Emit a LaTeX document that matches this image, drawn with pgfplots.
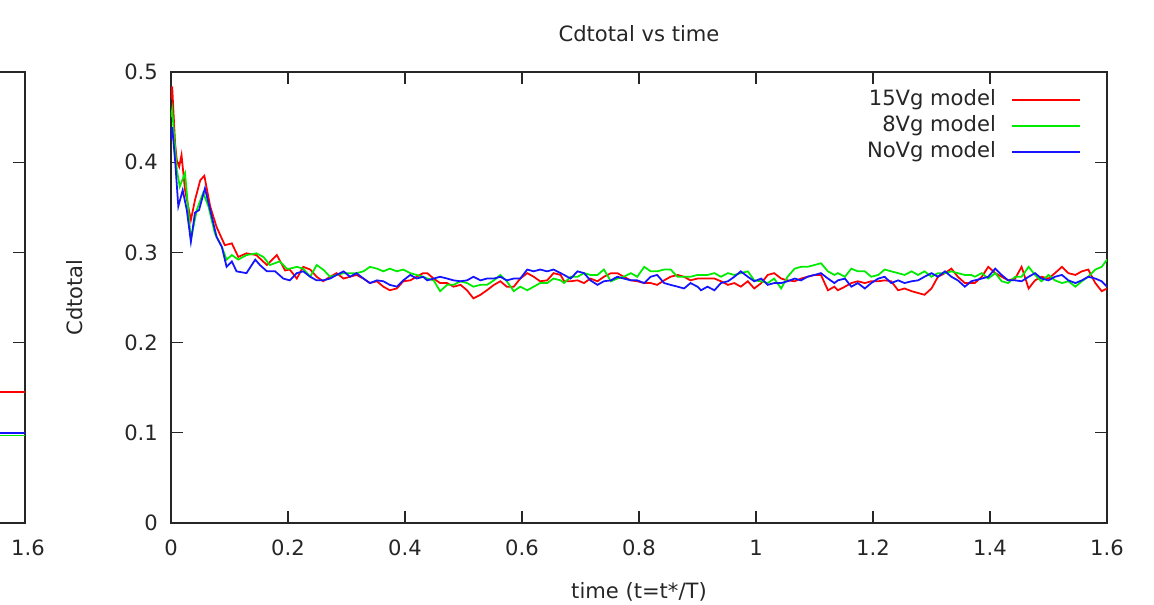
\documentclass[border=0pt]{standalone}
\usepackage{fontspec}
\setmainfont{DejaVu Sans}
\usepackage{pgfplots}
\pgfplotsset{compat=1.18}
\definecolor{gpred}{RGB}{255,0,0}
\definecolor{gpgreen}{RGB}{0,235,0}
\definecolor{gpblue}{RGB}{20,20,255}
\newcommand{\gpfont}{\fontsize{12}{14}\selectfont}

\pgfplotsset{gpstyle/.style={
  scale only axis, width=18.72cm, height=9.02cm,
  xmin=0, xmax=1.6, ymin=0, ymax=0.5,
  tick align=inside, xtick pos=both, ytick pos=both,
  major tick length=0.24cm,
  axis line style={black!85, line width=0.7pt},
  every tick/.style={black!85, line width=0.7pt},
  ticklabel style={font=\gpfont, text=black!85},
  /pgf/number format/assume math mode=true,
  xticklabel style={yshift=-0.22cm},
  yticklabel style={xshift=-0.14cm},
  clip=true,
}}

\begin{document}
\begin{tikzpicture}
\path[use as bounding box] (0,0) rectangle (23.08cm,12.1cm);
\begin{scope}
\clip (0,0) rectangle (23.08cm,12.1cm);

% previous chart, only its right edge is in view
\begin{axis}[gpstyle, at={(0.5cm,1.64cm)}, anchor=south east,
  xtick={1.6}, ytick={0.1,0.2,0.3,0.4}, yticklabels={},
  xticklabel style={xshift=0.06cm}]
\addplot[gpred, line width=1pt] coordinates {(1.5,0.145)(1.6,0.145)};
\addplot[gpgreen, line width=1pt] coordinates {(1.5,0.097)(1.6,0.097)};
\addplot[gpblue, line width=1pt] coordinates {(1.5,0.0995)(1.6,0.0995)};
\end{axis}

\begin{axis}[gpstyle, at={(3.42cm,1.64cm)}, anchor=south west,
  xtick={0,0.2,0.4,0.6,0.8,1,1.2,1.4,1.6},
  ytick={0,0.1,0.2,0.3,0.4,0.5},
  title={Cdtotal vs time},
  title style={at={(0.5,1.062)}, anchor=center, font=\gpfont, text=black!85},
  xlabel={time (t=t*/T)},
  xlabel style={at={(0.5,-0.153)}, anchor=center, font=\gpfont, text=black!85},
  ylabel={Cdtotal},
  ylabel style={at={(-0.1026,0.5)}, anchor=center, rotate=0, font=\gpfont, text=black!85},
  legend plot pos=right,
  legend cell align=right,
  legend image code/.code={\draw[#1] (0cm,0cm) -- (1.36cm,0cm);},
  legend style={at={(1,1)}, anchor=north east, xshift=-0.52cm, yshift=-0.34cm,
    draw=none, fill=none, inner sep=0pt, font=\gpfont, text=black!85,
    nodes={inner sep=0pt, text height=9pt, text depth=3pt},
    row sep=0.1cm, column sep=0.3cm},
]
\addplot[gpred, line width=1pt] coordinates {
(0,0.470)(0.002,0.484)(0.007,0.421)(0.010,0.402)(0.014,0.395)(0.018,0.408)(0.024,0.369)(0.034,0.336)(0.041,0.358)(0.050,0.380)(0.057,0.385)(0.067,0.351)(0.078,0.328)(0.092,0.308)(0.104,0.310)(0.115,0.295)(0.129,0.299)(0.146,0.297)(0.164,0.286)(0.181,0.297)(0.195,0.280)
(0.203,0.281)(0.215,0.271)(0.226,0.284)(0.238,0.281)(0.249,0.273)(0.260,0.268)(0.272,0.273)(0.283,0.277)(0.295,0.271)(0.306,0.273)(0.317,0.275)(0.329,0.271)(0.340,0.266)(0.352,0.268)(0.363,0.262)(0.374,0.258)(0.386,0.260)(0.397,0.268)(0.409,0.269)(0.420,0.273)(0.431,0.277)
(0.438,0.277)(0.449,0.271)(0.460,0.266)(0.472,0.266)(0.483,0.262)(0.495,0.264)(0.506,0.258)(0.517,0.249)(0.529,0.253)(0.540,0.258)(0.552,0.264)(0.563,0.268)(0.574,0.262)(0.586,0.262)(0.597,0.271)(0.609,0.277)(0.620,0.273)(0.631,0.268)(0.643,0.269)(0.654,0.277)(0.666,0.275)
(0.672,0.268)(0.683,0.268)(0.695,0.269)(0.706,0.266)(0.717,0.271)(0.729,0.268)(0.740,0.273)(0.752,0.277)(0.763,0.277)(0.774,0.273)(0.786,0.269)(0.797,0.268)(0.809,0.266)(0.820,0.266)(0.831,0.264)(0.843,0.269)(0.854,0.273)(0.866,0.275)(0.877,0.273)(0.888,0.269)(0.900,0.271)
(0.906,0.271)(0.917,0.271)(0.929,0.271)(0.940,0.268)(0.952,0.264)(0.963,0.266)(0.974,0.262)(0.986,0.268)(0.997,0.260)(1.009,0.266)(1.020,0.275)(1.031,0.277)(1.043,0.271)(1.054,0.269)(1.066,0.268)(1.077,0.271)(1.088,0.273)(1.100,0.275)(1.111,0.275)(1.123,0.258)(1.134,0.262)
(1.140,0.258)(1.152,0.262)(1.163,0.266)(1.174,0.268)(1.186,0.266)(1.197,0.268)(1.209,0.268)(1.220,0.269)(1.231,0.268)(1.243,0.258)(1.254,0.260)(1.266,0.257)(1.277,0.255)(1.288,0.253)(1.300,0.260)(1.311,0.273)(1.323,0.277)(1.334,0.282)(1.345,0.273)(1.357,0.266)(1.368,0.266)
(1.374,0.266)(1.386,0.273)(1.397,0.284)(1.409,0.277)(1.420,0.273)(1.431,0.269)(1.443,0.271)(1.454,0.284)(1.466,0.260)(1.477,0.269)(1.488,0.273)(1.500,0.271)(1.511,0.277)(1.523,0.284)(1.534,0.277)(1.546,0.275)(1.557,0.279)(1.568,0.281)(1.580,0.266)(1.591,0.257)(1.600,0.260)
};
\addlegendentry{15Vg model}
\addplot[gpgreen, line width=1pt] coordinates {
(0,0.450)(0.002,0.458)(0.010,0.391)(0.015,0.373)(0.024,0.388)(0.034,0.314)(0.044,0.347)(0.055,0.366)(0.064,0.351)(0.075,0.321)(0.087,0.306)(0.095,0.292)(0.104,0.297)(0.115,0.292)(0.129,0.297)(0.146,0.299)(0.158,0.295)(0.169,0.286)(0.186,0.290)(0.198,0.282)
(0.203,0.282)(0.215,0.284)(0.226,0.282)(0.238,0.273)(0.249,0.286)(0.260,0.281)(0.272,0.273)(0.283,0.275)(0.295,0.277)(0.306,0.277)(0.317,0.277)(0.329,0.279)(0.340,0.284)(0.352,0.282)(0.363,0.279)(0.374,0.282)(0.386,0.279)(0.397,0.281)(0.409,0.277)(0.420,0.275)(0.431,0.273)
(0.438,0.271)(0.449,0.269)(0.460,0.257)(0.472,0.264)(0.483,0.264)(0.495,0.268)(0.506,0.266)(0.517,0.262)(0.529,0.264)(0.540,0.264)(0.552,0.269)(0.563,0.275)(0.574,0.268)(0.586,0.257)(0.597,0.262)(0.609,0.258)(0.620,0.262)(0.631,0.266)(0.643,0.266)(0.654,0.271)(0.666,0.269)
(0.672,0.266)(0.683,0.273)(0.695,0.273)(0.706,0.277)(0.717,0.275)(0.729,0.275)(0.740,0.281)(0.752,0.268)(0.763,0.271)(0.774,0.273)(0.786,0.277)(0.797,0.273)(0.809,0.284)(0.820,0.279)(0.831,0.279)(0.843,0.281)(0.854,0.281)(0.866,0.273)(0.877,0.273)(0.888,0.273)(0.900,0.275)
(0.906,0.275)(0.917,0.275)(0.929,0.277)(0.940,0.273)(0.952,0.277)(0.963,0.275)(0.974,0.277)(0.986,0.279)(0.997,0.269)(1.009,0.268)(1.020,0.266)(1.031,0.271)(1.043,0.260)(1.054,0.273)(1.066,0.282)(1.077,0.284)(1.088,0.284)(1.100,0.286)(1.111,0.288)(1.123,0.279)(1.134,0.275)
(1.140,0.277)(1.152,0.273)(1.163,0.282)(1.174,0.279)(1.186,0.279)(1.197,0.273)(1.209,0.275)(1.220,0.281)(1.231,0.279)(1.243,0.277)(1.254,0.275)(1.266,0.279)(1.277,0.275)(1.288,0.279)(1.300,0.273)(1.311,0.277)(1.323,0.277)(1.334,0.279)(1.345,0.277)(1.357,0.275)(1.368,0.275)
(1.374,0.273)(1.386,0.277)(1.397,0.271)(1.409,0.277)(1.420,0.268)(1.431,0.266)(1.443,0.273)(1.454,0.273)(1.466,0.284)(1.477,0.275)(1.488,0.268)(1.500,0.275)(1.511,0.269)(1.523,0.266)(1.534,0.268)(1.546,0.262)(1.557,0.268)(1.568,0.273)(1.580,0.281)(1.591,0.284)(1.600,0.292)
};
\addlegendentry{8Vg model}
\addplot[gpblue, line width=1pt] coordinates {
(0,0.425)(0.002,0.439)(0.007,0.402)(0.0125,0.351)(0.020,0.369)(0.027,0.347)(0.034,0.312)(0.041,0.344)(0.048,0.347)(0.058,0.371)(0.067,0.347)(0.078,0.317)(0.087,0.306)(0.095,0.284)(0.104,0.290)(0.112,0.279)(0.129,0.277)(0.144,0.292)(0.152,0.286)(0.164,0.279)(0.178,0.279)(0.192,0.271)
(0.203,0.269)(0.215,0.277)(0.226,0.279)(0.238,0.273)(0.249,0.269)(0.260,0.269)(0.272,0.271)(0.283,0.275)(0.295,0.279)(0.306,0.273)(0.317,0.277)(0.329,0.271)(0.340,0.266)(0.352,0.269)(0.363,0.268)(0.374,0.264)(0.386,0.262)(0.397,0.269)(0.409,0.275)(0.420,0.271)(0.431,0.273)
(0.438,0.269)(0.449,0.271)(0.460,0.273)(0.472,0.271)(0.483,0.269)(0.495,0.268)(0.506,0.269)(0.517,0.273)(0.529,0.269)(0.540,0.271)(0.552,0.271)(0.563,0.273)(0.574,0.269)(0.586,0.271)(0.597,0.271)(0.609,0.281)(0.620,0.279)(0.631,0.281)(0.643,0.279)(0.654,0.281)(0.666,0.277)
(0.672,0.275)(0.683,0.271)(0.695,0.279)(0.706,0.277)(0.717,0.269)(0.729,0.264)(0.740,0.268)(0.752,0.269)(0.763,0.273)(0.774,0.271)(0.786,0.269)(0.797,0.269)(0.809,0.266)(0.820,0.273)(0.831,0.275)(0.843,0.266)(0.854,0.264)(0.866,0.262)(0.877,0.260)(0.888,0.266)(0.900,0.262)
(0.906,0.258)(0.917,0.262)(0.929,0.258)(0.940,0.266)(0.952,0.268)(0.963,0.273)(0.974,0.279)(0.986,0.273)(0.997,0.268)(1.009,0.271)(1.020,0.264)(1.031,0.266)(1.043,0.266)(1.054,0.268)(1.066,0.271)(1.077,0.269)(1.088,0.273)(1.100,0.275)(1.111,0.277)(1.123,0.271)(1.134,0.266)
(1.140,0.269)(1.152,0.271)(1.163,0.262)(1.174,0.266)(1.186,0.260)(1.197,0.266)(1.209,0.271)(1.220,0.273)(1.231,0.266)(1.243,0.269)(1.254,0.266)(1.266,0.268)(1.277,0.269)(1.288,0.273)(1.300,0.277)(1.311,0.273)(1.323,0.279)(1.334,0.273)(1.345,0.269)(1.357,0.262)(1.368,0.268)
(1.374,0.269)(1.386,0.271)(1.397,0.273)(1.409,0.282)(1.420,0.275)(1.431,0.269)(1.443,0.269)(1.454,0.268)(1.466,0.273)(1.477,0.277)(1.488,0.271)(1.500,0.269)(1.511,0.273)(1.523,0.275)(1.534,0.269)(1.546,0.266)(1.557,0.269)(1.568,0.273)(1.580,0.271)(1.591,0.268)(1.600,0.262)
};
\addlegendentry{NoVg model}
\end{axis}
\end{scope}
\end{tikzpicture}
\end{document}
